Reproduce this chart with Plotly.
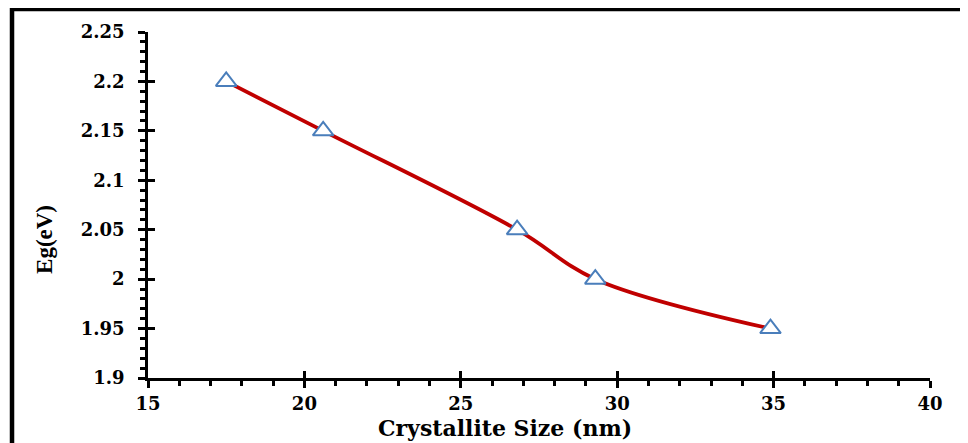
import plotly.graph_objects as go

crystallite_size = [17.5, 20.6, 26.8, 29.3, 34.9]
eg_values = [2.20, 2.15, 2.05, 2.00, 1.95]

x_ticks = [15, 20, 25, 30, 35, 40]
x_tick_text = ["15", "20", "25", "30", "35", "40"]
y_ticks = [1.9, 1.95, 2.0, 2.05, 2.1, 2.15, 2.2, 2.25]
y_tick_text = ["1.9", "1.95", "2", "2.05", "2.1", "2.15", "2.2", "2.25"]

x_title = "Crystallite Size (nm)"
y_title = "Eg(eV)"

TICK_FONT = "DejaVu Serif"

fig = go.Figure()
fig.add_trace(go.Scatter(
    x=crystallite_size, y=eg_values, mode="lines",
    line=dict(color="#C00000", width=3.8, shape="spline", smoothing=1),
    showlegend=False, hoverinfo="skip"))
fig.add_trace(go.Scatter(
    x=crystallite_size, y=eg_values, mode="markers",
    marker=dict(symbol="triangle-up", size=18, color="white",
                line=dict(color="#4A7EBB", width=2)),
    showlegend=False))
# dummy trace for crossing-tick overlay axes
fig.add_trace(go.Scatter(x=[None], y=[None], xaxis="x2", yaxis="y2",
                         showlegend=False, hoverinfo="skip"))

tickfont = dict(family=TICK_FONT, size=18, color="black")

fig.update_layout(
    width=960, height=435,
    margin=dict(l=140, r=38, t=24, b=65),
    paper_bgcolor="white", plot_bgcolor="white",
    xaxis=dict(range=[15, 40], tickvals=x_ticks, ticktext=[f"<b>{t}</b>" for t in x_tick_text],
               showgrid=False, zeroline=False, automargin=False,
               showline=True, linecolor="black", linewidth=2.5,
               ticks="outside", ticklen=7, tickwidth=2.5, tickcolor="black",
               minor=dict(dtick=1, ticks="outside", ticklen=5, tickwidth=2.5, tickcolor="black"),
               tickfont=tickfont, ticklabelstandoff=1),
    yaxis=dict(range=[1.9, 2.25], tickvals=y_ticks, ticktext=[f"<b>{t}</b>" for t in y_tick_text],
               showgrid=False, zeroline=False, automargin=False,
               showline=True, linecolor="black", linewidth=2.5,
               ticks="outside", ticklen=7, tickwidth=2.5, tickcolor="black",
               minor=dict(dtick=0.01, ticks="outside", ticklen=5, tickwidth=2.5, tickcolor="black"),
               tickfont=tickfont, ticklabelstandoff=10),
    xaxis2=dict(range=[15, 40], overlaying="x", tickvals=x_ticks, showticklabels=False,
                showgrid=False, zeroline=False, showline=False, automargin=False,
                ticks="inside", ticklen=7, tickwidth=2.5, tickcolor="black"),
    yaxis2=dict(range=[1.9, 2.25], overlaying="y", tickvals=y_ticks, showticklabels=False,
                showgrid=False, zeroline=False, showline=False, automargin=False,
                ticks="inside", ticklen=7, tickwidth=2.5, tickcolor="black"),
)

fig.add_annotation(text=f"<b>{x_title}</b>", xref="paper", yref="paper",
                   x=0.4565, y=-0.1445, showarrow=False, xanchor="center", yanchor="middle",
                   font=dict(family="DejaVu Serif", size=22, color="black"))
fig.add_annotation(text=f"<b>{y_title}</b>", xref="paper", yref="paper",
                   x=-0.1317, y=0.399, showarrow=False, xanchor="center", yanchor="middle",
                   textangle=-90,
                   font=dict(family="Liberation Serif", size=23, color="black"))

# outer frame
fig.add_shape(type="rect", xref="paper", yref="paper",
              x0=-0.1739, x1=1.07, y0=-0.23, y1=1.0665,
              line=dict(color="black", width=4.5), fillcolor="rgba(0,0,0,0)", layer="above")

fig.write_html("out.html")
